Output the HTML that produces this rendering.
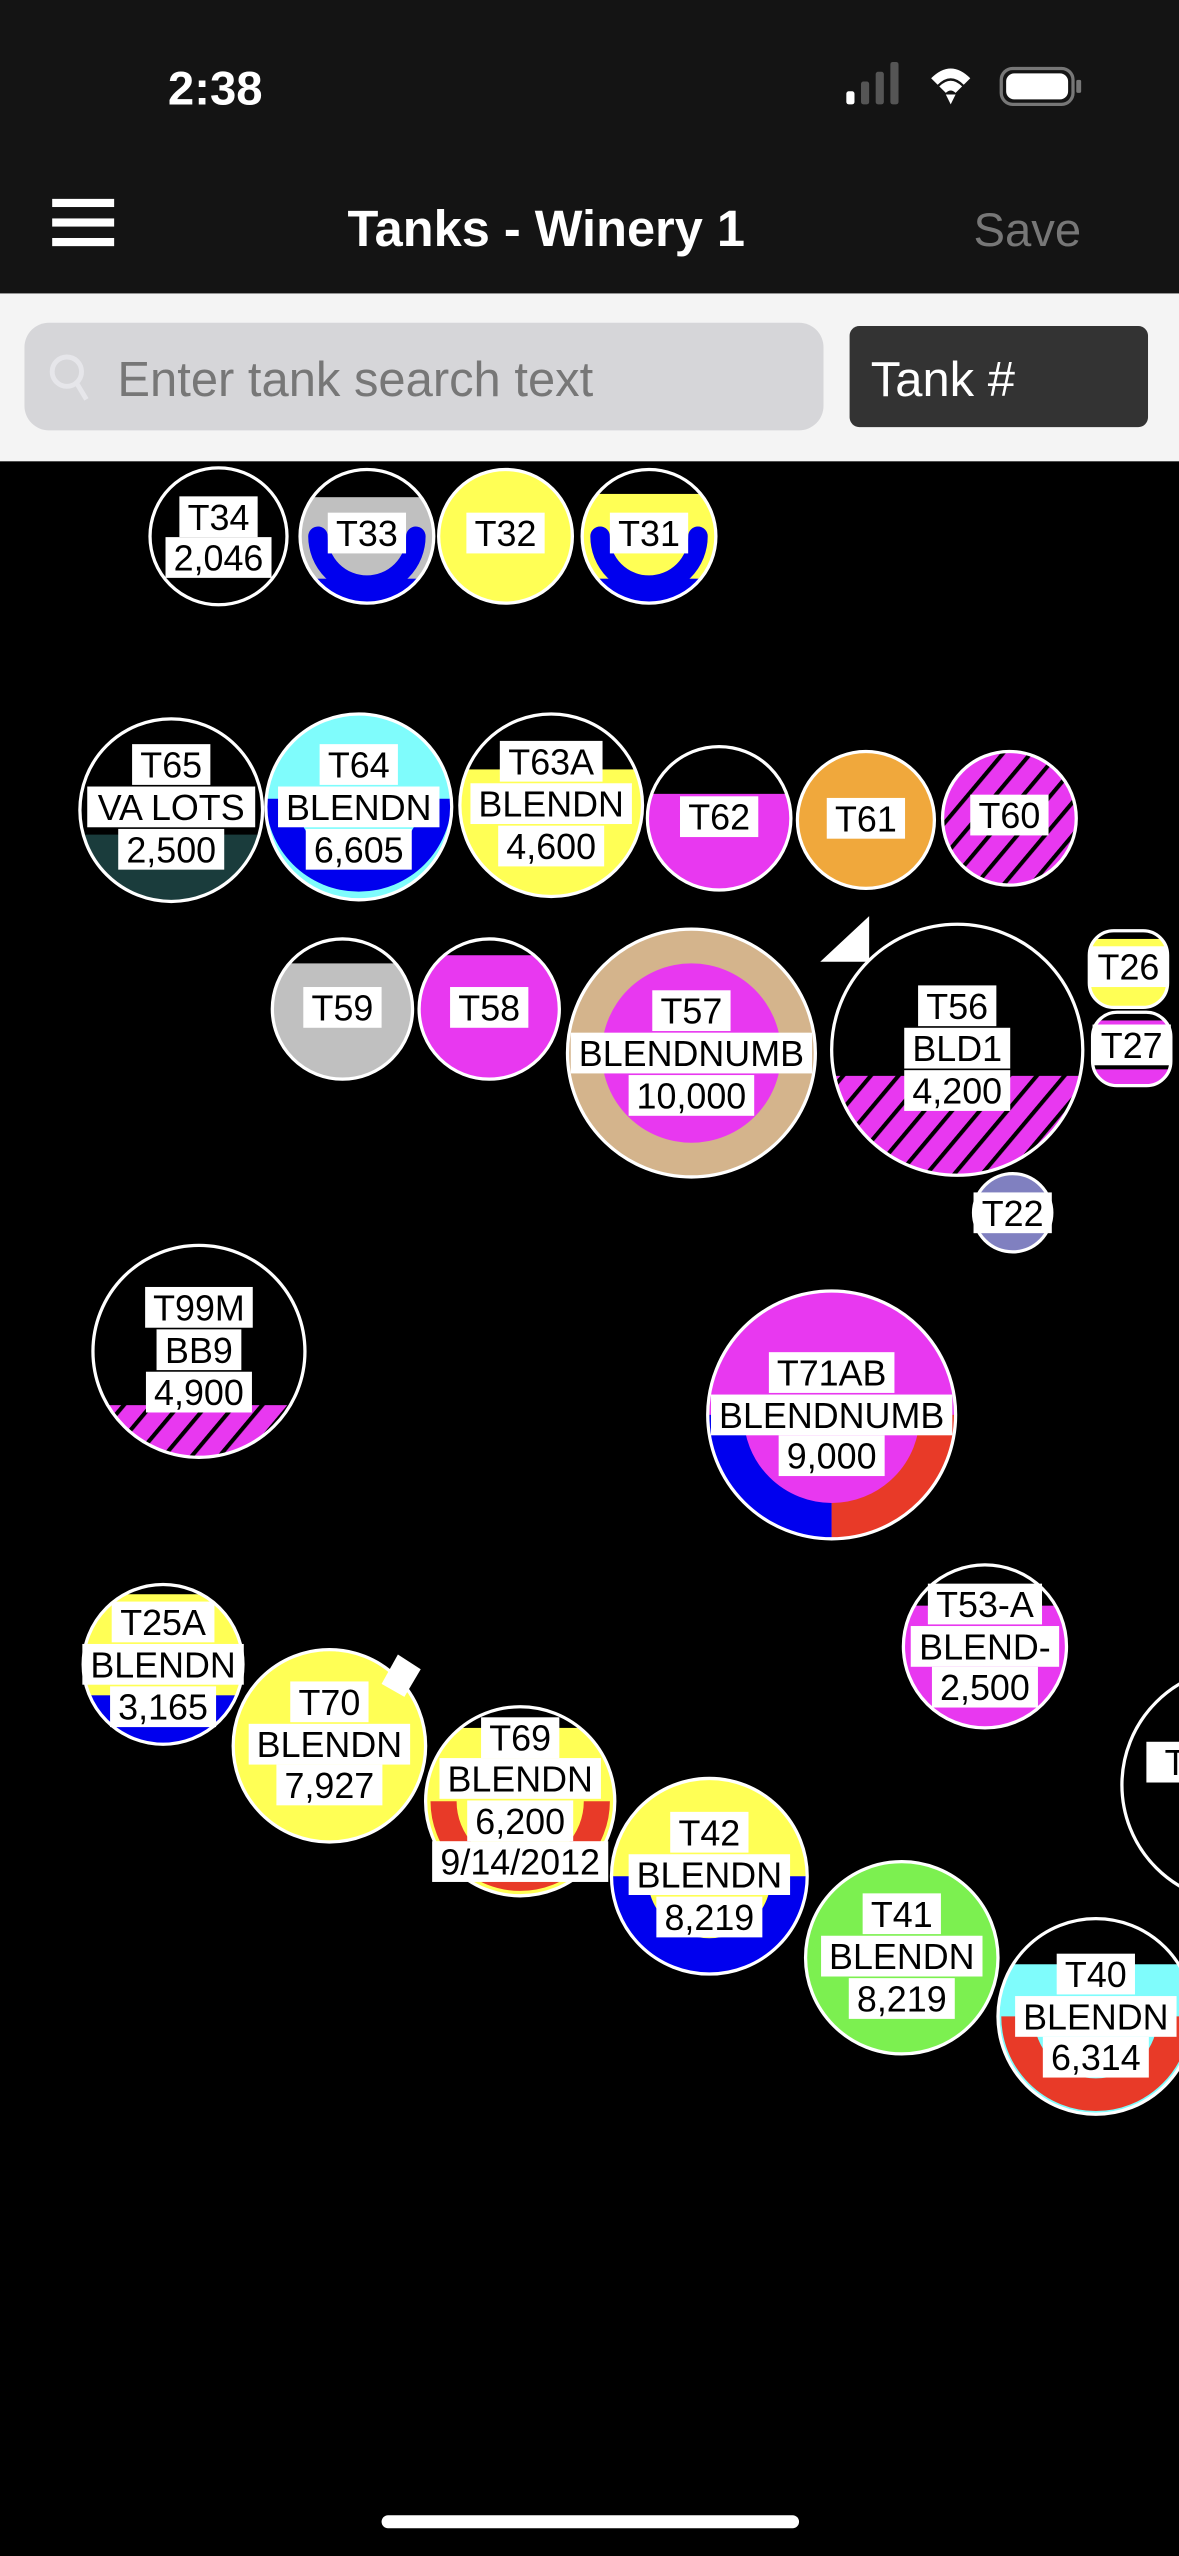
<!DOCTYPE html>
<html><head><meta charset="utf-8"><style>
html,body{margin:0;padding:0;background:#000;width:1179px;height:2556px;overflow:hidden}
svg{display:block}
.l{font-family:"Liberation Sans",sans-serif;font-size:22px;text-anchor:middle;fill:#000}
.r{fill:#fff}
.o{fill:none;stroke:#fff;stroke-width:2}
</style></head><body>
<svg width="1179" height="2556" viewBox="0 0 723 1568" preserveAspectRatio="none" xmlns="http://www.w3.org/2000/svg">
<defs>
<pattern id="h" patternUnits="userSpaceOnUse" width="13" height="13" patternTransform="rotate(40)">
<rect width="13" height="13" fill="#e838f0"/><rect x="0" y="0" width="2.5" height="13" fill="#000"/>
</pattern>
</defs>
<rect width="723" height="1568" fill="#000"/>
<!-- header -->
<rect width="723" height="180" fill="#141414"/>
<text x="132" y="64" font-family="Liberation Sans,sans-serif" font-size="29" font-weight="bold" fill="#fff" text-anchor="middle">2:38</text>
<rect x="519" y="56" width="5" height="8" rx="1.5" fill="#fff"/>
<rect x="528" y="50" width="5" height="14" rx="1.5" fill="#555"/>
<rect x="537" y="44" width="5" height="20" rx="1.5" fill="#555"/>
<rect x="546" y="38" width="5" height="26" rx="1.5" fill="#555"/>
<path d="M571 48 Q583 36 595 48 L591 52 Q583 44 575 52 Z M576 53 Q583 46 590 53 L586 57 Q583 54 580 57 Z M580 58 L586 58 L583 64 Z" fill="#fff"/>
<rect x="614" y="42" width="44" height="22" rx="7" fill="none" stroke="#777" stroke-width="2"/>
<rect x="617" y="45" width="38" height="16" rx="5" fill="#fff"/>
<rect x="660" y="49" width="3" height="8" rx="1" fill="#777"/>
<rect x="32" y="122" width="38" height="5" fill="#fff"/>
<rect x="32" y="134" width="38" height="5" fill="#fff"/>
<rect x="32" y="146" width="38" height="5" fill="#fff"/>
<text x="335" y="151" font-family="Liberation Sans,sans-serif" font-size="31" font-weight="bold" fill="#fff" text-anchor="middle">Tanks - Winery 1</text>
<text x="630" y="151" font-family="Liberation Sans,sans-serif" font-size="29" fill="#777" text-anchor="middle">Save</text>
<rect x="0" y="180" width="723" height="103" fill="#f4f4f4"/>
<rect x="15" y="198" width="490" height="66" rx="15" fill="#d6d6d9"/>
<circle cx="41" cy="228" r="9" fill="none" stroke="#e6e6ea" stroke-width="3"/>
<line x1="47" y1="235" x2="53" y2="245" stroke="#e6e6ea" stroke-width="3"/>
<text x="72" y="243" font-family="Liberation Sans,sans-serif" font-size="30" fill="#777">Enter tank search text</text>
<rect x="521" y="200" width="183" height="62" rx="6" fill="#333"/>
<text x="534" y="243" font-family="Liberation Sans,sans-serif" font-size="30" fill="#fff">Tank #</text>

<!-- clip paths -->
<clipPath id="c33"><circle cx="225" cy="329" r="41"/></clipPath>
<clipPath id="c31"><circle cx="398" cy="329" r="41"/></clipPath>
<clipPath id="c65"><circle cx="105" cy="497" r="56"/></clipPath>
<clipPath id="c64"><circle cx="220" cy="495" r="57"/></clipPath>
<clipPath id="c63"><circle cx="338" cy="494" r="56"/></clipPath>
<clipPath id="c62"><circle cx="441" cy="502" r="44"/></clipPath>
<clipPath id="c59"><circle cx="210" cy="619" r="43"/></clipPath>
<clipPath id="c58"><circle cx="300" cy="619" r="43"/></clipPath>
<clipPath id="c56"><circle cx="587" cy="644" r="77"/></clipPath>
<clipPath id="c99"><circle cx="122" cy="829" r="65"/></clipPath>
<clipPath id="c25"><circle cx="100" cy="1021" r="49"/></clipPath>
<clipPath id="c69"><circle cx="319" cy="1105" r="58"/></clipPath>
<clipPath id="c53"><circle cx="604" cy="1010" r="50"/></clipPath>
<clipPath id="c40"><circle cx="672" cy="1237" r="60"/></clipPath>
<clipPath id="c26"><rect x="668" y="571" width="48" height="47" rx="15"/></clipPath>
<clipPath id="c27"><rect x="670" y="621" width="48" height="45" rx="15"/></clipPath>

<!-- T34 -->
<circle cx="134" cy="329" r="42" fill="#000"/><circle class="o" cx="134" cy="329" r="42"/>
<!-- T33 -->
<g clip-path="url(#c33)"><rect x="180" y="280" width="90" height="100" fill="#c0c0c0"/><rect x="180" y="280" width="90" height="25" fill="#000"/>
<path d="M195 329 A30 30 0 0 0 255 329" fill="none" stroke="#0000ee" stroke-width="12" stroke-linecap="round"/>
<rect x="180" y="355" width="90" height="30" fill="#0000ee"/></g>
<circle class="o" cx="225" cy="329" r="41"/>
<!-- T32 -->
<circle cx="310" cy="329" r="41" fill="#ffff55"/><circle class="o" cx="310" cy="329" r="41"/>
<!-- T31 -->
<g clip-path="url(#c31)"><rect x="355" y="280" width="90" height="100" fill="#ffff55"/><rect x="355" y="280" width="90" height="23" fill="#000"/>
<path d="M368 329 A30 30 0 0 0 428 329" fill="none" stroke="#0000ee" stroke-width="12" stroke-linecap="round"/>
<rect x="355" y="355" width="90" height="30" fill="#0000ee"/></g>
<circle class="o" cx="398" cy="329" r="41"/>
<!-- T65 -->
<g clip-path="url(#c65)"><rect x="45" y="440" width="120" height="120" fill="#000"/><rect x="45" y="512" width="120" height="50" fill="#1a3c3c"/></g>
<circle class="o" cx="105" cy="497" r="56"/>
<!-- T64 -->
<g clip-path="url(#c64)"><rect x="160" y="435" width="120" height="120" fill="#7ffcfc"/>
<path d="M163 490 A57 57 0 0 0 277 490 Z" fill="#0000ee"/>
<path d="M182 490 A38 38 0 0 0 258 490 Z" fill="#7ffcfc"/></g>
<circle class="o" cx="220" cy="495" r="57"/>
<!-- T63A -->
<g clip-path="url(#c63)"><rect x="280" y="435" width="120" height="120" fill="#ffff55"/><rect x="280" y="435" width="120" height="37" fill="#000"/></g>
<circle class="o" cx="338" cy="494" r="56"/>
<!-- T62 -->
<g clip-path="url(#c62)"><rect x="395" y="455" width="95" height="95" fill="#e838f0"/><rect x="395" y="455" width="95" height="32" fill="#000"/></g>
<circle class="o" cx="441" cy="502" r="44"/>
<!-- T61 -->
<circle cx="531" cy="503" r="42" fill="#f0a83c"/><circle class="o" cx="531" cy="503" r="42"/>
<!-- T60 -->
<circle cx="619" cy="502" r="41" fill="url(#h)"/><circle class="o" cx="619" cy="502" r="41"/>
<!-- T59 -->
<g clip-path="url(#c59)"><rect x="165" y="575" width="90" height="90" fill="#c0c0c0"/><rect x="165" y="575" width="90" height="16" fill="#000"/></g>
<circle class="o" cx="210" cy="619" r="43"/>
<!-- T58 -->
<g clip-path="url(#c58)"><rect x="255" y="575" width="90" height="90" fill="#e838f0"/><rect x="255" y="575" width="90" height="11" fill="#000"/></g>
<circle class="o" cx="300" cy="619" r="43"/>
<!-- T57 -->
<circle cx="424" cy="646" r="76" fill="#d4b48c"/><circle cx="424" cy="646" r="55" fill="#e838f0"/><circle class="o" cx="424" cy="646" r="76"/>
<!-- triangle -->
<polygon points="503,590 533,590 533,562" fill="#fff"/>
<!-- T56 -->
<g clip-path="url(#c56)"><rect x="505" y="560" width="165" height="170" fill="#000"/><rect x="505" y="660" width="165" height="70" fill="url(#h)"/></g>
<circle class="o" cx="587" cy="644" r="77"/>
<!-- T26 / T27 -->
<g clip-path="url(#c26)"><rect x="668" y="571" width="48" height="47" fill="#ffff55"/><rect x="668" y="571" width="48" height="5" fill="#000"/></g>
<rect x="668" y="571" width="48" height="47" rx="15" class="o"/>
<g clip-path="url(#c27)"><rect x="670" y="621" width="48" height="45" fill="#e838f0"/><rect x="670" y="621" width="48" height="5" fill="#000"/><rect x="670" y="652" width="48" height="4" fill="#000"/></g>
<rect x="670" y="621" width="48" height="45" rx="15" class="o"/>
<!-- T22 -->
<circle cx="621" cy="744" r="24" fill="#8080c0"/><circle class="o" cx="621" cy="744" r="24"/>
<!-- T99M -->
<g clip-path="url(#c99)"><rect x="55" y="762" width="135" height="135" fill="#000"/><rect x="55" y="862" width="135" height="40" fill="url(#h)"/></g>
<circle class="o" cx="122" cy="829" r="65"/>
<!-- T71AB -->
<circle cx="510" cy="868" r="76" fill="#e838f0"/>
<path d="M445 868 A65 65 0 0 0 510 933" fill="none" stroke="#0000ee" stroke-width="22"/>
<path d="M510 933 A65 65 0 0 0 575 868" fill="none" stroke="#e83a28" stroke-width="22"/>
<circle class="o" cx="510" cy="868" r="76"/>
<!-- T25A -->
<g clip-path="url(#c25)"><rect x="50" y="970" width="100" height="100" fill="#ffff55"/><rect x="50" y="970" width="100" height="8" fill="#000"/><rect x="50" y="1040" width="100" height="35" fill="#0000ee"/></g>
<circle class="o" cx="100" cy="1021" r="49"/>
<!-- T70 -->
<circle cx="202" cy="1071" r="59" fill="#ffff55"/><circle class="o" cx="202" cy="1071" r="59"/>
<polygon points="244,1015 258,1024 248,1041 234,1033" fill="#fff"/>
<!-- T69 -->
<g clip-path="url(#c69)"><rect x="260" y="1045" width="120" height="120" fill="#ffff55"/><rect x="260" y="1045" width="120" height="15" fill="#000"/>
<path d="M272 1105 A47 47 0 0 0 366 1105" fill="none" stroke="#e83a28" stroke-width="16"/></g>
<circle class="o" cx="319" cy="1105" r="58"/>
<!-- T42 -->
<circle cx="435" cy="1151" r="60" fill="#ffff55"/>
<path d="M386 1151 A49 49 0 0 0 484 1151" fill="none" stroke="#0000ee" stroke-width="22"/>
<circle class="o" cx="435" cy="1151" r="60"/>
<!-- T41 -->
<circle cx="553" cy="1201" r="59" fill="#7cf050"/><circle class="o" cx="553" cy="1201" r="59"/>
<!-- T53-A -->
<g clip-path="url(#c53)"><rect x="550" y="958" width="110" height="105" fill="#e838f0"/><rect x="550" y="958" width="110" height="27" fill="#000"/></g>
<circle class="o" cx="604" cy="1010" r="50"/>
<!-- T3x -->
<circle cx="760" cy="1095" r="72" fill="#000"/><circle class="o" cx="760" cy="1095" r="72"/>
<!-- T40 -->
<g clip-path="url(#c40)"><rect x="610" y="1175" width="125" height="125" fill="#7ffcfc"/><rect x="610" y="1175" width="125" height="30" fill="#000"/>
<path d="M624 1237 A48 48 0 0 0 720 1237" fill="none" stroke="#e83a28" stroke-width="20"/></g>
<circle class="o" cx="672" cy="1237" r="60"/>

<!-- labels -->
<g>
<rect class="r" x="110" y="304.5" width="48" height="25"/><rect class="r" x="101.5" y="329.5" width="65" height="25"/>
<text class="l" x="134" y="325">T34</text><text class="l" x="134" y="350">2,046</text>
<rect class="r" x="201" y="314.5" width="48" height="25"/><text class="l" x="225" y="335">T33</text>
<rect class="r" x="286" y="314.5" width="48" height="25"/><text class="l" x="310" y="335">T32</text>
<rect class="r" x="374" y="314.5" width="48" height="25"/><text class="l" x="398" y="335">T31</text>

<rect class="r" x="81" y="456.5" width="48" height="25"/><rect class="r" x="53.5" y="482.5" width="103" height="25"/><rect class="r" x="72.5" y="508.5" width="65" height="25"/>
<text class="l" x="105" y="477">T65</text><text class="l" x="105" y="503">VA LOTS</text><text class="l" x="105" y="529">2,500</text>
<rect class="r" x="196" y="456.5" width="48" height="25"/><rect class="r" x="170.5" y="482.5" width="99" height="25"/><rect class="r" x="187.5" y="508.5" width="65" height="25"/>
<text class="l" x="220" y="477">T64</text><text class="l" x="220" y="503">BLENDN</text><text class="l" x="220" y="529">6,605</text>
<rect class="r" x="306.5" y="454.5" width="63" height="25"/><rect class="r" x="288.5" y="480.5" width="99" height="25"/><rect class="r" x="305.5" y="506.5" width="65" height="25"/>
<text class="l" x="338" y="475">T63A</text><text class="l" x="338" y="501">BLENDN</text><text class="l" x="338" y="527">4,600</text>
<rect class="r" x="417" y="488.5" width="48" height="25"/><text class="l" x="441" y="509">T62</text>
<rect class="r" x="507" y="489.5" width="48" height="25"/><text class="l" x="531" y="510">T61</text>
<rect class="r" x="595" y="487.5" width="48" height="25"/><text class="l" x="619" y="508">T60</text>

<rect class="r" x="186" y="605.5" width="48" height="25"/><text class="l" x="210" y="626">T59</text>
<rect class="r" x="276" y="605.5" width="48" height="25"/><text class="l" x="300" y="626">T58</text>
<rect class="r" x="400" y="607.5" width="48" height="25"/><rect class="r" x="350" y="633.5" width="148" height="25"/><rect class="r" x="385.5" y="659.5" width="77" height="25"/>
<text class="l" x="424" y="628">T57</text><text class="l" x="424" y="654">BLENDNUMB</text><text class="l" x="424" y="680">10,000</text>
<rect class="r" x="563" y="604.5" width="48" height="25"/><rect class="r" x="554.5" y="630.5" width="65" height="25"/><rect class="r" x="554.5" y="656.5" width="65" height="25"/>
<text class="l" x="587" y="625">T56</text><text class="l" x="587" y="651">BLD1</text><text class="l" x="587" y="677">4,200</text>
<rect class="r" x="668" y="580.5" width="48" height="25"/><text class="l" x="692" y="601">T26</text>
<rect class="r" x="670" y="628.5" width="48" height="25"/><text class="l" x="694" y="649">T27</text>
<rect class="r" x="597" y="731.5" width="48" height="25"/><text class="l" x="621" y="752">T22</text>

<rect class="r" x="89" y="789.5" width="66" height="25"/><rect class="r" x="96" y="815.5" width="52" height="25"/><rect class="r" x="89.5" y="841.5" width="65" height="25"/>
<text class="l" x="122" y="810">T99M</text><text class="l" x="122" y="836">BB9</text><text class="l" x="122" y="862">4,900</text>
<rect class="r" x="471.5" y="829.5" width="77" height="25"/><rect class="r" x="436" y="855.5" width="148" height="25"/><rect class="r" x="477.5" y="880.5" width="65" height="25"/>
<text class="l" x="510" y="850">T71AB</text><text class="l" x="510" y="876">BLENDNUMB</text><text class="l" x="510" y="901">9,000</text>

<rect class="r" x="68.5" y="982.5" width="63" height="25"/><rect class="r" x="50.5" y="1008.5" width="99" height="25"/><rect class="r" x="67.5" y="1034.5" width="65" height="25"/>
<text class="l" x="100" y="1003">T25A</text><text class="l" x="100" y="1029">BLENDN</text><text class="l" x="100" y="1055">3,165</text>
<rect class="r" x="178" y="1031.5" width="48" height="25"/><rect class="r" x="152.5" y="1057.5" width="99" height="25"/><rect class="r" x="169.5" y="1082.5" width="65" height="25"/>
<text class="l" x="202" y="1052">T70</text><text class="l" x="202" y="1078">BLENDN</text><text class="l" x="202" y="1103">7,927</text>
<rect class="r" x="295" y="1053.5" width="48" height="25"/><rect class="r" x="269.5" y="1078.5" width="99" height="25"/><rect class="r" x="286.5" y="1104.5" width="65" height="25"/><rect class="r" x="265" y="1129.5" width="108" height="25"/>
<text class="l" x="319" y="1074">T69</text><text class="l" x="319" y="1099">BLENDN</text><text class="l" x="319" y="1125">6,200</text><text class="l" x="319" y="1150">9/14/2012</text>
<rect class="r" x="411" y="1111.5" width="48" height="25"/><rect class="r" x="385.5" y="1137.5" width="99" height="25"/><rect class="r" x="402.5" y="1163.5" width="65" height="25"/>
<text class="l" x="435" y="1132">T42</text><text class="l" x="435" y="1158">BLENDN</text><text class="l" x="435" y="1184">8,219</text>
<rect class="r" x="529" y="1161.5" width="48" height="25"/><rect class="r" x="503.5" y="1187.5" width="99" height="25"/><rect class="r" x="520.5" y="1213.5" width="65" height="25"/>
<text class="l" x="553" y="1182">T41</text><text class="l" x="553" y="1208">BLENDN</text><text class="l" x="553" y="1234">8,219</text>
<rect class="r" x="569" y="971.5" width="70" height="25"/><rect class="r" x="558.5" y="997.5" width="91" height="25"/><rect class="r" x="571.5" y="1022.5" width="65" height="25"/>
<text class="l" x="604" y="992">T53-A</text><text class="l" x="604" y="1018">BLEND-</text><text class="l" x="604" y="1043">2,500</text>
<rect class="r" x="703" y="1068.5" width="48" height="25"/><text class="l" x="727" y="1089">T3</text>
<rect class="r" x="648" y="1198.5" width="48" height="25"/><rect class="r" x="622.5" y="1224.5" width="99" height="25"/><rect class="r" x="639.5" y="1249.5" width="65" height="25"/>
<text class="l" x="672" y="1219">T40</text><text class="l" x="672" y="1245">BLENDN</text><text class="l" x="672" y="1270">6,314</text>
</g>
<rect x="234" y="1543" width="256" height="8" rx="4" fill="#fff"/>
</svg>
</body></html>
